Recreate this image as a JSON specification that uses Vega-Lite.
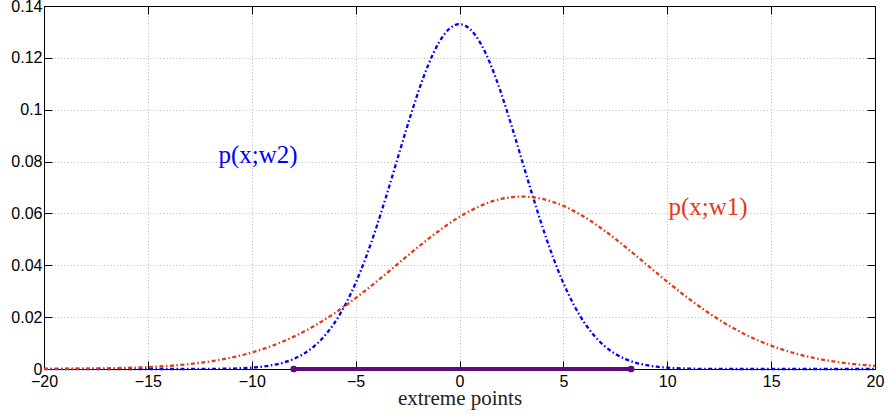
{
  "$schema": "https://vega.github.io/schema/vega-lite/v6.json",
  "width": 831,
  "height": 363,
  "autosize": {"type": "none"},
  "padding": {"left": 44, "top": 6, "right": 12, "bottom": 48},
  "background": "#ffffff",
  "config": {
    "view": {"stroke": "#000000", "strokeWidth": 1},
    "axis": {
      "domainColor": "#000000",
      "domainWidth": 1,
      "tickColor": "#000000",
      "tickWidth": 1,
      "tickSize": -8,
      "labelFont": "Liberation Sans",
      "labelFontSize": 16,
      "labelColor": "#000000",
      "gridColor": "#bcbcbc",
      "gridDash": [1, 2.3],
      "gridWidth": 1
    }
  },
  "datasets": {
    "curves": [
      {"series": "w2", "x": -20, "y": 0},
      {"series": "w2", "x": -16, "y": 0},
      {"series": "w2", "x": -14, "y": 0.000002},
      {"series": "w2", "x": -13, "y": 0.00001},
      {"series": "w2", "x": -12, "y": 0.00004},
      {"series": "w2", "x": -11, "y": 0.00016},
      {"series": "w2", "x": -10, "y": 0.00051},
      {"series": "w2", "x": -9.5, "y": 0.00088},
      {"series": "w2", "x": -9, "y": 0.00148},
      {"series": "w2", "x": -8.5, "y": 0.0024},
      {"series": "w2", "x": -8, "y": 0.0038},
      {"series": "w2", "x": -7.5, "y": 0.00584},
      {"series": "w2", "x": -7, "y": 0.00874},
      {"series": "w2", "x": -6.5, "y": 0.01272},
      {"series": "w2", "x": -6, "y": 0.018},
      {"series": "w2", "x": -5.5, "y": 0.02477},
      {"series": "w2", "x": -5, "y": 0.03316},
      {"series": "w2", "x": -4.5, "y": 0.04317},
      {"series": "w2", "x": -4, "y": 0.05467},
      {"series": "w2", "x": -3.5, "y": 0.06733},
      {"series": "w2", "x": -3, "y": 0.08066},
      {"series": "w2", "x": -2.5, "y": 0.09397},
      {"series": "w2", "x": -2, "y": 0.10648},
      {"series": "w2", "x": -1.5, "y": 0.11736},
      {"series": "w2", "x": -1, "y": 0.12579},
      {"series": "w2", "x": -0.5, "y": 0.13115},
      {"series": "w2", "x": 0, "y": 0.13298},
      {"series": "w2", "x": 0.5, "y": 0.13115},
      {"series": "w2", "x": 1, "y": 0.12579},
      {"series": "w2", "x": 1.5, "y": 0.11736},
      {"series": "w2", "x": 2, "y": 0.10648},
      {"series": "w2", "x": 2.5, "y": 0.09397},
      {"series": "w2", "x": 3, "y": 0.08066},
      {"series": "w2", "x": 3.5, "y": 0.06733},
      {"series": "w2", "x": 4, "y": 0.05467},
      {"series": "w2", "x": 4.5, "y": 0.04317},
      {"series": "w2", "x": 5, "y": 0.03316},
      {"series": "w2", "x": 5.5, "y": 0.02477},
      {"series": "w2", "x": 6, "y": 0.018},
      {"series": "w2", "x": 6.5, "y": 0.01272},
      {"series": "w2", "x": 7, "y": 0.00874},
      {"series": "w2", "x": 7.5, "y": 0.00584},
      {"series": "w2", "x": 8, "y": 0.0038},
      {"series": "w2", "x": 8.5, "y": 0.0024},
      {"series": "w2", "x": 9, "y": 0.00148},
      {"series": "w2", "x": 9.5, "y": 0.00088},
      {"series": "w2", "x": 10, "y": 0.00051},
      {"series": "w2", "x": 11, "y": 0.00016},
      {"series": "w2", "x": 12, "y": 0.00004},
      {"series": "w2", "x": 13, "y": 0.00001},
      {"series": "w2", "x": 14, "y": 0.000002},
      {"series": "w2", "x": 16, "y": 0},
      {"series": "w2", "x": 20, "y": 0},
      {"series": "w1", "x": -20, "y": 0.00004},
      {"series": "w1", "x": -19, "y": 0.00008},
      {"series": "w1", "x": -18, "y": 0.00015},
      {"series": "w1", "x": -17, "y": 0.00026},
      {"series": "w1", "x": -16, "y": 0.00044},
      {"series": "w1", "x": -15, "y": 0.00074},
      {"series": "w1", "x": -14, "y": 0.0012},
      {"series": "w1", "x": -13, "y": 0.0019},
      {"series": "w1", "x": -12, "y": 0.00292},
      {"series": "w1", "x": -11, "y": 0.00437},
      {"series": "w1", "x": -10, "y": 0.00636},
      {"series": "w1", "x": -9, "y": 0.009},
      {"series": "w1", "x": -8, "y": 0.01239},
      {"series": "w1", "x": -7, "y": 0.01658},
      {"series": "w1", "x": -6, "y": 0.02159},
      {"series": "w1", "x": -5, "y": 0.02733},
      {"series": "w1", "x": -4, "y": 0.03367},
      {"series": "w1", "x": -3, "y": 0.04033},
      {"series": "w1", "x": -2, "y": 0.04699},
      {"series": "w1", "x": -1, "y": 0.05324},
      {"series": "w1", "x": 0, "y": 0.05868},
      {"series": "w1", "x": 1, "y": 0.0629},
      {"series": "w1", "x": 2, "y": 0.06557},
      {"series": "w1", "x": 3, "y": 0.06649},
      {"series": "w1", "x": 4, "y": 0.06557},
      {"series": "w1", "x": 5, "y": 0.0629},
      {"series": "w1", "x": 6, "y": 0.05868},
      {"series": "w1", "x": 7, "y": 0.05324},
      {"series": "w1", "x": 8, "y": 0.04699},
      {"series": "w1", "x": 9, "y": 0.04033},
      {"series": "w1", "x": 10, "y": 0.03367},
      {"series": "w1", "x": 11, "y": 0.02733},
      {"series": "w1", "x": 12, "y": 0.02159},
      {"series": "w1", "x": 13, "y": 0.01658},
      {"series": "w1", "x": 14, "y": 0.01239},
      {"series": "w1", "x": 15, "y": 0.009},
      {"series": "w1", "x": 16, "y": 0.00636},
      {"series": "w1", "x": 17, "y": 0.00437},
      {"series": "w1", "x": 18, "y": 0.00292},
      {"series": "w1", "x": 19, "y": 0.0019},
      {"series": "w1", "x": 20, "y": 0.0012}
    ],
    "extreme": [
      {"x": -7.98, "y": 0},
      {"x": 8.26, "y": 0}
    ],
    "labels": [
      {"series": "w2", "x": -9.7, "y": 0.0825, "label": "p(x;w2)"},
      {"series": "w1", "x": 11.96, "y": 0.0625, "label": "p(x;w1)"}
    ]
  },
  "layer": [
    {
      "data": {"name": "curves"},
      "mark": {"type": "line", "strokeWidth": 2.3, "strokeDash": [4, 2.5, 1.5, 2.5], "interpolate": "monotone"},
      "encoding": {
        "x": {
          "field": "x", "type": "quantitative",
          "scale": {"domain": [-20, 20], "nice": false, "zero": false},
          "axis": {
            "orient": "bottom",
            "values": [-20, -15, -10, -5, 0, 5, 10, 15, 20],
            "format": "d",
            "labelPadding": 12,
            "labelFlush": false,
            "labelOverlap": false,
            "title": "extreme points",
            "titleFont": "Liberation Serif",
            "titleFontSize": 21,
            "titleFontWeight": "normal",
            "titleColor": "#222222",
            "titlePadding": -2
          }
        },
        "y": {
          "field": "y", "type": "quantitative",
          "scale": {"domain": [0, 0.14], "nice": false},
          "axis": {
            "orient": "left",
            "values": [0, 0.02, 0.04, 0.06, 0.08, 0.1, 0.12, 0.14],
            "format": ".2~f",
            "labelPadding": 10,
            "labelFlush": false,
            "labelOverlap": false,
            "title": null
          }
        },
        "color": {
          "field": "series", "type": "nominal",
          "scale": {"domain": ["w2", "w1"], "range": ["#0000ff", "#e33b16"]},
          "legend": null
        }
      }
    },
    {
      "data": {"name": "curves"},
      "mark": {"type": "line", "opacity": 0},
      "encoding": {
        "x": {
          "field": "x", "type": "quantitative",
          "axis": {"orient": "top", "values": [-20, -15, -10, -5, 0, 5, 10, 15, 20], "labels": false, "grid": false, "title": null}
        },
        "y": {
          "field": "y", "type": "quantitative",
          "axis": {"orient": "right", "values": [0, 0.02, 0.04, 0.06, 0.08, 0.1, 0.12, 0.14], "labels": false, "grid": false, "title": null}
        },
        "detail": {"field": "series", "type": "nominal"}
      }
    },
    {
      "data": {"name": "extreme"},
      "mark": {"type": "line", "color": "#5c0b80", "strokeWidth": 4},
      "encoding": {
        "x": {"field": "x", "type": "quantitative", "axis": null},
        "y": {"field": "y", "type": "quantitative", "axis": null}
      }
    },
    {
      "data": {"name": "extreme"},
      "mark": {"type": "point", "filled": true, "color": "#5c0b80", "size": 45, "opacity": 1},
      "encoding": {
        "x": {"field": "x", "type": "quantitative", "axis": null},
        "y": {"field": "y", "type": "quantitative", "axis": null}
      }
    },
    {
      "data": {"name": "labels"},
      "mark": {"type": "text", "font": "Liberation Serif", "fontSize": 25, "align": "center", "baseline": "middle"},
      "encoding": {
        "x": {"field": "x", "type": "quantitative", "axis": null},
        "y": {"field": "y", "type": "quantitative", "axis": null},
        "text": {"field": "label"},
        "color": {"field": "series", "type": "nominal", "legend": null}
      }
    }
  ],
  "resolve": {"axis": {"x": "independent", "y": "independent"}}
}
